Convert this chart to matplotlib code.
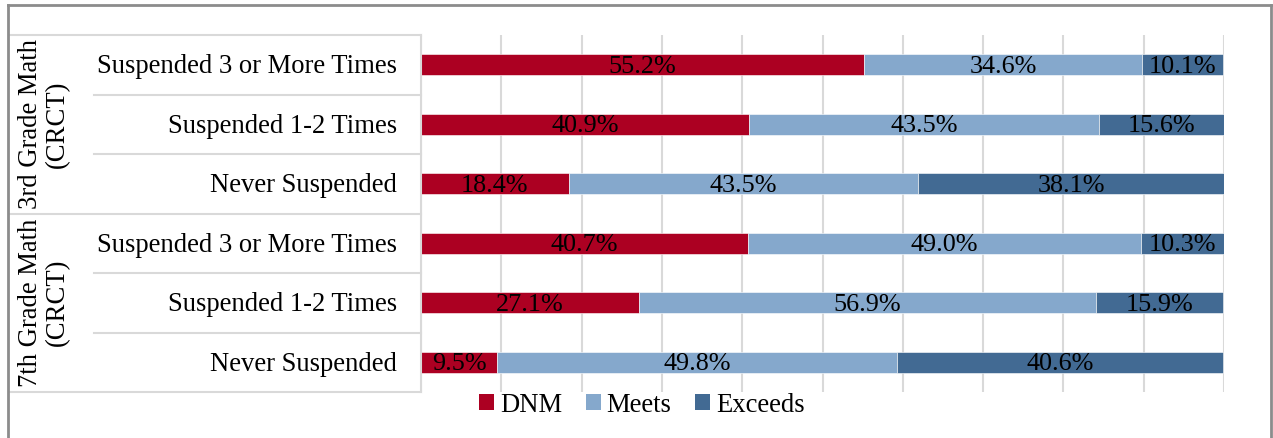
import matplotlib.pyplot as plt
from matplotlib.lines import Line2D
from matplotlib.patches import Patch
import numpy as np

plt.rcParams['font.family'] = ['Liberation Serif', 'DejaVu Serif']

groups = ["3rd Grade Math\n(CRCT)", "7th Grade Math\n(CRCT)"]
categories = ["Suspended 3 or More Times", "Suspended 1-2 Times", "Never Suspended",
              "Suspended 3 or More Times", "Suspended 1-2 Times", "Never Suspended"]
series_names = ["DNM", "Meets", "Exceeds"]
dnm = [55.2, 40.9, 18.4, 40.7, 27.1, 9.5]
meets = [34.6, 43.5, 43.5, 49.0, 56.9, 49.8]
exceeds = [10.1, 15.6, 38.1, 10.3, 15.9, 40.6]
colors = ["#AC0022", "#85A8CC", "#426A93"]

W, H = 1273, 438
fig = plt.figure(figsize=(W / 100, H / 100), dpi=100)

def fx(px):
    return px / W

def fy(py):
    return 1 - py / H

ax_left, ax_right, ax_top, ax_bot = 421, 1224, 35, 392
ax = fig.add_axes([fx(ax_left), fy(ax_bot), fx(ax_right) - fx(ax_left), fy(ax_top) - fy(ax_bot)])

n = len(categories)
y = np.arange(n)[::-1]  # top category at top
left = np.zeros(n)
for vals, col, name in zip([dnm, meets, exceeds], colors, series_names):
    v = np.array(vals)
    ax.barh(y, v, left=left, height=0.35, color=col, edgecolor="white", linewidth=0.4, label=name, zorder=3)
    for yi, li, vi in zip(y, left, v):
        ax.text(li + vi / 2, yi - 0.03, f"{vi:.1f}%", ha="center", va="center", fontsize=18.8, color="black", zorder=4)
    left = left + v

ax.set_xlim(0, 100)
ax.set_ylim(-0.5, n - 0.5)
ax.set_xticks(np.arange(0, 101, 10))
ax.xaxis.grid(True, color="#D9D9D9", linewidth=1.5, zorder=0)
ax.tick_params(axis="both", length=0, labelbottom=False, labelleft=False)
for s in ax.spines.values():
    s.set_visible(False)

# Category labels
row_h = (ax_bot - ax_top) / n
for i, cat in enumerate(categories):
    cy = ax_top + row_h * (i + 0.5)
    fig.text(fx(397), fy(cy + 2), cat, ha="right", va="center", fontsize=19.2)

# Table lines
gc = "#D9D9D9"
for i in range(n + 1):
    py = ax_top + row_h * i
    x0 = 10 if i % 3 == 0 else 94
    fig.add_artist(Line2D([fx(x0), fx(ax_left)], [fy(py), fy(py)], color=gc, linewidth=1.5))
fig.add_artist(Line2D([fx(ax_left), fx(ax_left)], [fy(ax_top), fy(ax_bot)], color=gc, linewidth=1.5))

# Group labels
for g, gl in enumerate(groups):
    cy = ax_top + row_h * (3 * g + 1.5)
    fig.text(fx(44), fy(cy), gl, rotation=90, ha="center", va="center", fontsize=19.2,
             linespacing=1.15, multialignment="center")

# Outer border
bc = "#8C8C8C"
fig.add_artist(Line2D([fx(8), fx(8)], [fy(5), 0], color=bc, linewidth=2))
fig.add_artist(Line2D([fx(8), fx(1271)], [fy(5), fy(5)], color=bc, linewidth=2))
fig.add_artist(Line2D([fx(1271), fx(1271)], [fy(5), 0], color=bc, linewidth=2))

# Legend
handles = [Patch(facecolor=c, edgecolor="none") for c in colors]
fig.legend(handles, series_names, loc="center", bbox_to_anchor=(fx(642), fy(405)), ncol=3,
           frameon=False, fontsize=19.2, handlelength=0.55, handleheight=0.55,
           handletextpad=0.22, columnspacing=0.9, borderpad=0)

fig.savefig("out.png", dpi=100)
